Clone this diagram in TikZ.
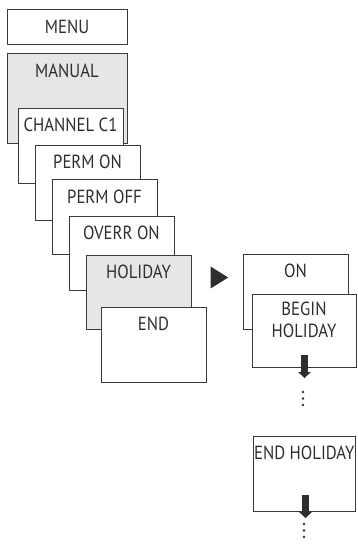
\documentclass[tikz,border=0pt]{standalone}
\usepackage{fontspec}
\setmainfont{PT Sans}[FakeStretch=0.88]
\usetikzlibrary{arrows.meta,shapes.geometric}
\definecolor{edge}{HTML}{3A3A3A}
\definecolor{shade}{HTML}{E5E6E7}
\definecolor{ink}{HTML}{2E2E2E}
\begin{document}
\begin{tikzpicture}[x=1pt,y=-1pt,
  box/.style={draw=edge,line width=0.9pt,fill=white,anchor=north west,inner sep=0pt,outer sep=0pt,minimum width=105pt,minimum height=75pt},
  graybox/.style={box,fill=shade},
  lbl/.style={anchor=base,inner sep=0pt,text=ink,font=\fontsize{19}{22}\selectfont},
  bigarrow/.style={draw=ink,line width=7pt,-{Triangle[width=12.5pt,length=6pt]}},
  dot/.style={fill=ink,draw=none,circle,inner sep=0pt,minimum size=2.8pt}]
\useasboundingbox (0,0) rectangle (357,547);
% left column
\node[box,minimum width=120pt,minimum height=35pt] (menu) at (7,9) {};
\node[lbl] (tmenu) at ([yshift=-24.5pt]menu.north) {MENU};
\node[graybox,minimum width=120pt,minimum height=90pt] (manual) at (7,53) {};
\node[lbl] (tmanual) at ([yshift=-24.5pt]manual.north) {MANUAL};
\node[box] (chan) at (18,108) {};
\node[lbl] (tchan) at ([yshift=-23pt]chan.north) {CHANNEL C1};
\node[box] (permon) at (35,145) {};
\node[lbl] (tpermon) at ([yshift=-23pt]permon.north) {PERM ON};
\node[box] (permoff) at (52,179) {};
\node[lbl] (tpermoff) at ([yshift=-24pt]permoff.north) {PERM OFF};
\node[box,minimum height=74pt] (overr) at (69,216) {};
\node[lbl] (toverr) at ([yshift=-23pt]overr.north) {OVERR ON};
\node[graybox,minimum height=74pt] (holiday) at (86,255) {};
\node[lbl] (tholiday) at ([yshift=-23pt]holiday.north) {HOLIDAY};
\node[box] (endb) at (101,307) {};
\node[lbl] (tend) at ([yshift=-23pt]endb.north) {END};
% pointer
\node[fill=ink,draw=none,isosceles triangle,isosceles triangle apex angle=64,inner sep=0pt,minimum height=17.5pt,anchor=west] (ptr) at (210.5,277.5) {};
% right column
\node[box] (on) at (243,254) {};
\node[lbl] (ton) at ([yshift=-23.5pt]on.north) {ON};
\node[box,minimum width=104pt,minimum height=73pt] (begin) at (252,294) {};
\node[lbl] (tbegin1) at ([yshift=-21.5pt]begin.north) {BEGIN};
\node[lbl] (tbegin2) at ([yshift=-43.5pt]begin.north) {HOLIDAY};
\coordinate (a1s) at (304.5,355);
\coordinate (a1e) at (304.5,378);
\draw[bigarrow] (a1s) -- (a1e);
\node[dot] (d1) at (303,392) {};
\node[dot] (d2) at (303,398.5) {};
\node[dot] (d3) at (303,405) {};
\node[box,minimum width=102.5pt,minimum height=75pt] (endh) at (253,436) {};
\node[lbl] (tendh) at ([yshift=-23pt]endh.north) {END HOLIDAY};
\coordinate (a2s) at (305.5,495);
\coordinate (a2e) at (305.5,518);
\draw[bigarrow] (a2s) -- (a2e);
\node[dot] (e1) at (304,524) {};
\node[dot] (e2) at (304,530.5) {};
\node[dot] (e3) at (304,537) {};
\end{tikzpicture}
\end{document}
